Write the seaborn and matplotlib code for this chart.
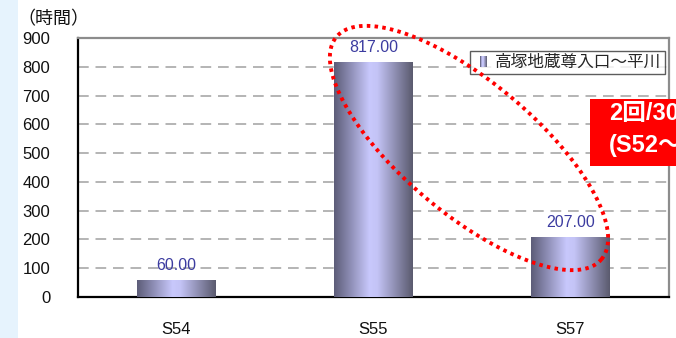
import numpy as np
import matplotlib
matplotlib.use("Agg")
import matplotlib.pyplot as plt
import matplotlib.lines as mlines
import matplotlib.patches as mpatches
from matplotlib.colors import LinearSegmentedColormap
from matplotlib.legend_handler import HandlerBase
import seaborn as sns

# Data
categories = ["S54", "S55", "S57"]
hours = [60.00, 817.00, 207.00]
series_name = "高塚地蔵尊入口～平川"
y_ticks = [0, 100, 200, 300, 400, 500, 600, 700, 800, 900]
y_unit = "（時間）"
note_lines = ["2回/30年", "(S52～S57)"]

sns.set_theme(style="white")
plt.rcParams["font.family"] = ["Liberation Sans", "Noto Sans CJK JP", "DejaVu Sans"]

W, H = 676, 338
fig = plt.figure(figsize=(W / 100, H / 100), dpi=100)
fig.patch.set_facecolor("white")

# light side strip
fig.add_artist(mpatches.Rectangle((0, 0), 18 / W, 1, transform=fig.transFigure,
                                  facecolor="#e6f3fd", edgecolor="none", zorder=0))

ax = fig.add_axes([78 / W, 1 - 297 / H, (669 - 78) / W, (297 - 38) / H])
ax.set_facecolor("white")

sns.barplot(x=categories, y=hours, width=0.4, color="#a0a0d0", ax=ax,
            edgecolor="none", zorder=3)

# metallic horizontal gradient on every bar
bar_cmap = LinearSegmentedColormap.from_list(
    "bar", [(0.0, "#5c5c78"), (0.45, "#c8c8fc"), (0.55, "#c4c4f6"), (1.0, "#5a5a6e")])
grad = np.linspace(0, 1, 256).reshape(1, -1)
for patch in ax.patches:
    x0, y0 = patch.get_x(), patch.get_y()
    w, h = patch.get_width(), patch.get_height()
    im = ax.imshow(grad, cmap=bar_cmap, aspect="auto",
                   extent=(x0, x0 + w, y0, y0 + h), zorder=3, interpolation="bilinear")
    im.set_clip_path(patch)
    patch.set_facecolor("none")

ax.set_xlim(-0.5, 2.5)
ax.set_ylim(0, 900)
ax.set_yticks(y_ticks)
ax.set_yticklabels([str(v) for v in y_ticks], fontsize=12, color="#111111")
ax.tick_params(axis="y", direction="in", length=4, width=1, color="black", pad=20)
ax.tick_params(axis="x", which="major", length=0, pad=18, labelsize=12, labelcolor="#111111")
ax.set_xticks([0.5, 1.5], minor=True)
ax.tick_params(axis="x", which="minor", direction="in", length=5, width=1, color="black")

for v in y_ticks[1:-1]:
    ax.axhline(v, color="#b4b4b4", lw=1.4, dashes=(5.5, 3.5), zorder=1)

for side in ["left", "bottom"]:
    ax.spines[side].set_color("black")
    ax.spines[side].set_linewidth(1.6)
for side in ["top", "right"]:
    ax.spines[side].set_color("#8c8c8c")
    ax.spines[side].set_linewidth(1.6)

# value labels
for i, v in enumerate(hours):
    ax.annotate(f"{v:.2f}", (i, v), xytext=(0, 5), textcoords="offset points",
                ha="center", va="bottom", fontsize=11.5, color="#3c3ca0", zorder=5)

fig.text(17 / W, 1 - 20 / H, y_unit, fontsize=13, va="center", ha="left", color="#111111")


# legend with a gradient swatch
class GradientHandler(HandlerBase):
    def create_artists(self, legend, orig_handle, xdescent, ydescent, width, height,
                       fontsize, trans):
        artists = []
        sw = height * 0.6
        x0 = xdescent + width - sw - 2
        n = 8
        for k in range(n):
            c = bar_cmap((k + 0.5) / n)
            r = mpatches.Rectangle((x0 + k * sw / n, -ydescent), sw / n, height,
                                   facecolor=c, edgecolor="none", transform=trans)
            artists.append(r)
        return artists


handle = mpatches.Patch(label=series_name)
leg = ax.legend([handle], [series_name], handler_map={mpatches.Patch: GradientHandler()},
                loc="upper right", bbox_to_anchor=(0.993, 0.95), fontsize=12,
                frameon=True, fancybox=False, borderpad=0.25, handlelength=0.9,
                handletextpad=0.3, borderaxespad=0)
leg.get_frame().set_edgecolor("#333333")
leg.get_frame().set_linewidth(1.0)
leg.set_zorder(6)

# dotted ellipse highlighting the drop
cx, cy, a, b, th = 469, 148, 173, 66, np.deg2rad(40)
t = np.linspace(0, 2 * np.pi, 400)
px = cx + a * np.cos(t) * np.cos(th) - b * np.sin(t) * np.sin(th)
py = cy + a * np.cos(t) * np.sin(th) + b * np.sin(t) * np.cos(th)
fig.add_artist(mlines.Line2D(px / W, 1 - py / H, transform=fig.transFigure,
                             color="#ff0000", lw=2.8, linestyle=(0, (0.9, 1.1)),
                             solid_capstyle="butt", dash_capstyle="butt", zorder=10))

# red note box, running off the right edge
fig.add_artist(mpatches.Rectangle((590 / W, 1 - 166 / H), 120 / W, 67 / H,
                                  transform=fig.transFigure, facecolor="#ff0000",
                                  edgecolor="none", zorder=11))
fig.text(609 / W, 1 - 113 / H, note_lines[0], fontsize=17, fontweight="bold",
         color="white", va="center", ha="left", zorder=12)
fig.text(609 / W, 1 - 145 / H, note_lines[1], fontsize=17, fontweight="bold",
         color="white", va="center", ha="left", zorder=12)

fig.savefig("out.png", dpi=100)
